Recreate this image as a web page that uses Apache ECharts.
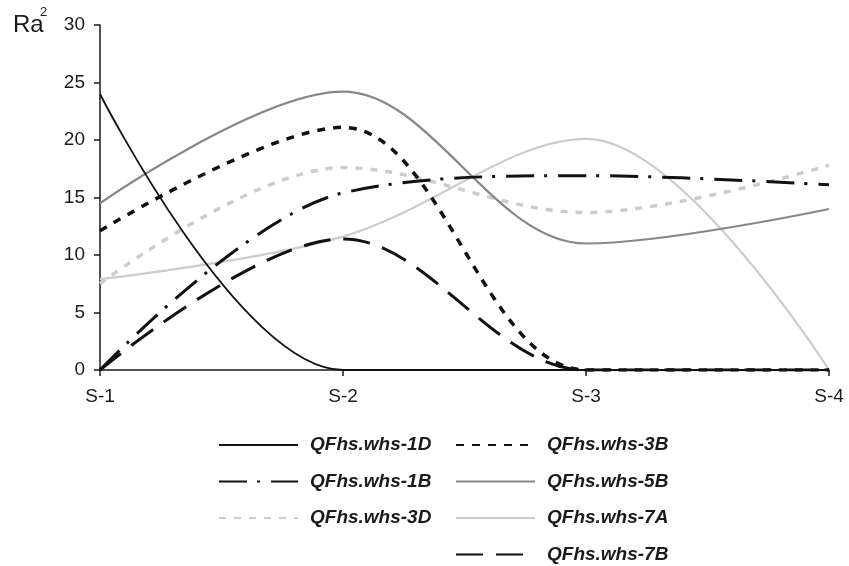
<!DOCTYPE html>
<html>
<head>
<meta charset="utf-8">
<script src="https://cdn.jsdelivr.net/npm/echarts@6/dist/echarts.min.js"></script>
<style>
html,body{margin:0;padding:0;background:#fff;}
#chart{width:849px;height:566px;}
</style>
</head>
<body>
<div id="chart"></div>
<script>
var categories = ['S-1', 'S-2', 'S-3', 'S-4'];
var yTicks = [0, 5, 10, 15, 20, 25, 30];
var s1D = [24, 0, 0, 0];
var s3B = [12.1, 21.1, 0, 0];
var s1B = [0, 15.4, 16.9, 16.1];
var s5B = [14.5, 24.2, 11.0, 14.0];
var s3D = [7.5, 17.6, 13.7, 17.8];
var s7A = [7.9, 11.6, 20.1, 0];
var s7B = [0, 11.4, 0, 0];
var names = ['QFhs.whs-1D', 'QFhs.whs-3B', 'QFhs.whs-1B', 'QFhs.whs-5B', 'QFhs.whs-3D', 'QFhs.whs-7A', 'QFhs.whs-7B'];

var FONT = 'Liberation Sans, Arial, sans-serif';
var SMOOTH = 0.35;
var chart = echarts.init(document.getElementById('chart'), null, {renderer: 'canvas'});

function mk(name, data, color, width, dash) {
  return {
    name: name, type: 'line', data: data, smooth: SMOOTH,
    symbol: 'circle', showSymbol: false, symbolSize: 0,
    itemStyle: {color: 'rgba(0,0,0,0)'},
    lineStyle: {color: color, width: width, type: dash},
    emphasis: {disabled: true},
    animation: false
  };
}

function legendAt(left, top, data) {
  return {
    orient: 'vertical', left: left, top: top, padding: 0,
    itemWidth: 79, itemHeight: 14, itemGap: 17.5,
    selectedMode: false, data: data,
    itemStyle: {color: 'rgba(0,0,0,0)', borderWidth: 0, opacity: 0},
    textStyle: {fontFamily: FONT, fontSize: 19, fontWeight: 'bold', fontStyle: 'italic', color: '#1a1a1a', lineHeight: 19, padding: [0, 0, 0, 7]}
  };
}

var option = {
  backgroundColor: '#fff',
  animation: false,
  graphic: [
    {type: 'text', left: 13, top: 13, style: {text: 'Ra', fontFamily: FONT, fontSize: 24, fill: '#1a1a1a'}},
    {type: 'text', left: 40, top: 6, style: {text: '2', fontFamily: FONT, fontSize: 13, fill: '#1a1a1a'}}
  ],
  legend: [
    legendAt(218, 435.5, [names[0], names[2], names[4]]),
    legendAt(455, 435.5, [names[1], names[3], names[5]]),
    legendAt(455, 545, [names[6]])
  ],
  grid: {left: 100, right: 20, top: 25, bottom: 196, containLabel: false},
  xAxis: {
    type: 'category', data: categories, boundaryGap: false,
    axisLine: {lineStyle: {color: '#1a1a1a', width: 1.5}},
    axisTick: {show: true, inside: false, length: 6, lineStyle: {color: '#1a1a1a', width: 1.5}},
    axisLabel: {fontFamily: FONT, fontSize: 19, color: '#1a1a1a', margin: 17},
    splitLine: {show: false}
  },
  yAxis: {
    type: 'value', min: yTicks[0], max: yTicks[yTicks.length - 1], interval: 5,
    axisLine: {show: true, lineStyle: {color: '#1a1a1a', width: 1.5}},
    axisTick: {show: true, inside: false, length: 6, lineStyle: {color: '#1a1a1a', width: 1.5}},
    axisLabel: {fontFamily: FONT, fontSize: 19, color: '#1a1a1a', margin: 15},
    splitLine: {show: false}
  },
  series: [
    mk(names[4], s3D, '#cccccc', 3.5, [7, 8]),
    mk(names[5], s7A, '#cccccc', 2.2, 'solid'),
    mk(names[3], s5B, '#888888', 2.2, 'solid'),
    mk(names[1], s3B, '#111111', 3.5, [8, 8]),
    mk(names[2], s1B, '#111111', 3, [28, 10, 3, 11]),
    mk(names[6], s7B, '#111111', 3, [27, 13]),
    mk(names[0], s1D, '#111111', 1.8, 'solid')
  ]
};
chart.setOption(option);
</script>
</body>
</html>
